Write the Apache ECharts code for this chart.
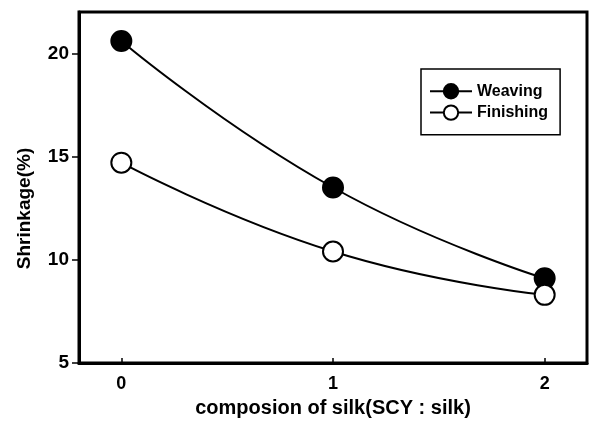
<!DOCTYPE html>
<html>
<head>
<meta charset="utf-8">
<script src="https://cdn.jsdelivr.net/npm/echarts@6/dist/echarts.min.js"></script>
<style>
html,body{margin:0;padding:0;background:#fff;}
#c{width:590px;height:423px;}
</style>
</head>
<body>
<div id="c"></div>
<script>
const xValues = [0, 1, 2];
const weaving = [20.6, 13.5, 9.1];
const finishing = [14.7, 10.4, 8.3];
const xTicks = [0, 1, 2];
const yTicks = [5, 10, 15, 20];

const FONT = '"Liberation Sans", Arial, sans-serif';
const chart = echarts.init(document.getElementById('c'), null, {renderer: 'canvas'});
const pair = (arr) => arr.map((v, i) => [xValues[i], v]);

chart.setOption({
  animation: false,
  backgroundColor: '#fff',
  grid: {left: 79, right: 3, top: 12, bottom: 59, show: true, borderColor: '#000', borderWidth: 3, containLabel: false},
  legend: {
    orient: 'vertical',
    left: 421, top: 69,
    padding: [14, 12, 14, 8],
    itemGap: 5,
    itemWidth: 42, itemHeight: 18,
    borderColor: '#000', borderWidth: 1.5,
    backgroundColor: '#fff',
    textStyle: {fontFamily: FONT, fontWeight: 'bold', fontSize: 16, color: '#000'},
    data: ['Weaving', 'Finishing']
  },
  xAxis: {
    type: 'value', min: -0.2, max: 2.2,
    name: 'composion of silk(SCY : silk)',
    nameLocation: 'middle', nameGap: 35,
    nameTextStyle: {fontFamily: FONT, fontWeight: 'bold', fontSize: 20, color: '#000'},
    axisLine: {show: true, onZero: false, lineStyle: {color: '#000', width: 3}},
    axisTick: {show: true, inside: true, length: 5, customValues: xTicks, lineStyle: {color: '#000', width: 1.5}},
    axisLabel: {customValues: xTicks, margin: 12, fontFamily: FONT, fontWeight: 'bold', fontSize: 18, color: '#000'},
    splitLine: {show: false}
  },
  yAxis: {
    type: 'value', min: 5, max: 22,
    name: 'Shrinkage(%)',
    nameLocation: 'middle', nameGap: 45,
    nameTextStyle: {fontFamily: FONT, fontWeight: 'bold', fontSize: 19, color: '#000', padding: [0, 42, 0, 0]},
    axisLine: {show: true, onZero: false, lineStyle: {color: '#000', width: 3}},
    axisTick: {show: true, inside: false, length: 7, customValues: yTicks, lineStyle: {color: '#000', width: 1.5}},
    axisLabel: {customValues: yTicks, margin: 10, fontFamily: FONT, fontWeight: 'bold', fontSize: 19, color: '#000'},
    splitLine: {show: false}
  },
  series: [
    {
      name: 'Weaving', type: 'line', smooth: true,
      data: pair(weaving),
      symbol: 'circle', symbolSize: 20,
      lineStyle: {color: '#000', width: 2},
      itemStyle: {color: '#000', borderColor: '#000', borderWidth: 2}
    },
    {
      name: 'Finishing', type: 'line', smooth: true,
      data: pair(finishing),
      symbol: 'circle', symbolSize: 20,
      lineStyle: {color: '#000', width: 2},
      itemStyle: {color: '#fff', borderColor: '#000', borderWidth: 2}
    }
  ]
});
</script>
</body>
</html>
